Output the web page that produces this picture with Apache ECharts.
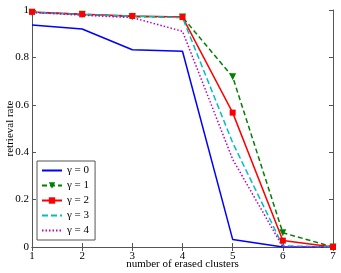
<!DOCTYPE html>
<html><head><meta charset="utf-8">
<script src="https://cdn.jsdelivr.net/npm/echarts@6/dist/echarts.min.js"></script>
<style>html,body{margin:0;padding:0;background:#fff}#c{width:341px;height:273px}</style>
</head><body><div id="c"></div>
<script>
const categories = [1, 2, 3, 4, 5, 6, 7];
const yTicks = [0, 0.2, 0.4, 0.6, 0.8, 1];
const seriesNames = ['γ = 0', 'γ = 1', 'γ = 2', 'γ = 3', 'γ = 4'];
const g0 = [0.937, 0.92, 0.832, 0.826, 0.032, 0.0, 0.0];
const g1 = [0.99, 0.982, 0.972, 0.97, 0.718, 0.06, 0.0];
const g2 = [0.992, 0.982, 0.975, 0.97, 0.567, 0.027, 0.0];
const g3 = [0.99, 0.981, 0.974, 0.968, 0.44, 0.005, 0.0];
const g4 = [0.99, 0.978, 0.968, 0.91, 0.37, 0.0, 0.0];

const font = 'Liberation Serif';
const chart = echarts.init(document.getElementById('c'));
const pair = d => d.map((v, i) => [categories[i], v]);
const axisLine = {show: true, lineStyle: {color: '#555', width: 1}};
const tick = {inside: true, length: 4, lineStyle: {color: '#555'}};
const hideSym = {itemStyle: {opacity: 0}};
chart.setOption({
  animation: false,
  textStyle: {fontFamily: font},
  grid: {left: 32, right: 8, top: 10, bottom: 26, outerBoundsMode: 'none', containLabel: false},
  xAxis: [{
    type: 'value', min: 1, max: 7, interval: 1, position: 'bottom',
    axisLine: axisLine, axisTick: tick, splitLine: {show: false},
    axisLabel: {color: '#000', fontSize: 11, fontFamily: font, margin: 4},
    name: 'number of erased clusters', nameLocation: 'middle', nameGap: 12, nameMoveOverlap: false,
    nameTextStyle: {color: '#000', fontSize: 11, fontFamily: font}
  }, {
    type: 'value', min: 1, max: 7, interval: 1, position: 'top',
    axisLine: axisLine, axisTick: tick, axisLabel: {show: false}, splitLine: {show: false}
  }],
  yAxis: [{
    type: 'value', min: 0, max: 1, interval: 0.2, position: 'left',
    axisLine: axisLine, axisTick: tick, splitLine: {show: false},
    axisLabel: {color: '#000', fontSize: 11, fontFamily: font, margin: 3,
      formatter: v => yTicks.includes(+v.toFixed(1)) ? String(+v.toFixed(1)) : ''},
    name: 'retrieval rate', nameLocation: 'middle', nameGap: 16, nameRotate: 90, nameMoveOverlap: false,
    nameTextStyle: {color: '#000', fontSize: 11, fontFamily: font}
  }, {
    type: 'value', min: 0, max: 1, interval: 0.2, position: 'right',
    axisLine: axisLine, axisTick: tick, axisLabel: {show: false}, splitLine: {show: false}
  }],
  legend: {
    orient: 'vertical', left: 37, top: 161, itemGap: 4,
    itemWidth: 20, itemHeight: 8, itemStyle: {},
    backgroundColor: '#fff', borderColor: '#555', borderWidth: 1, borderRadius: 0,
    padding: [4, 6, 4, 4],
    textStyle: {color: '#000', fontSize: 11, fontFamily: font},
    data: [
      Object.assign({name: seriesNames[0]}, hideSym),
      {name: seriesNames[1]},
      {name: seriesNames[2]},
      Object.assign({name: seriesNames[3]}, hideSym),
      Object.assign({name: seriesNames[4]}, hideSym)
    ]
  },
  series: [
    {name: seriesNames[0], type: 'line', data: pair(g0), symbol: 'none',
     lineStyle: {color: '#0000ff', width: 1.5}, itemStyle: {color: '#0000ff'}},
    {name: seriesNames[1], type: 'line', data: pair(g1), symbol: 'triangle', symbolRotate: 180, symbolSize: 7,
     lineStyle: {color: '#008000', width: 1.5, type: [5, 3]}, itemStyle: {color: '#008000'}},
    {name: seriesNames[2], type: 'line', data: pair(g2), symbol: 'rect', symbolSize: 6,
     lineStyle: {color: '#ff0000', width: 1.5}, itemStyle: {color: '#ff0000'}},
    {name: seriesNames[3], type: 'line', data: pair(g3), symbol: 'none',
     lineStyle: {color: '#00bfbf', width: 1.5, type: [6, 3]}, itemStyle: {color: '#00bfbf'}},
    {name: seriesNames[4], type: 'line', data: pair(g4), symbol: 'none',
     lineStyle: {color: '#bf00bf', width: 1.5, type: [1.5, 2]}, itemStyle: {color: '#bf00bf'}}
  ]
});
</script></body></html>
